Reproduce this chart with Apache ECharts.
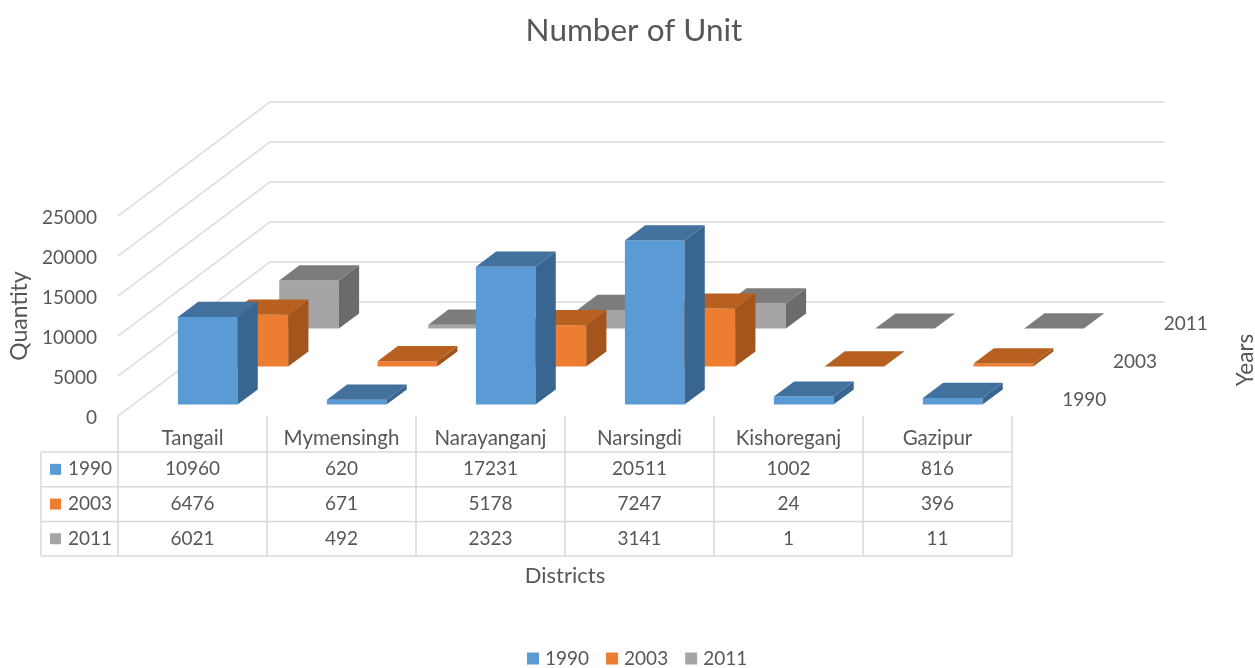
<!DOCTYPE html>
<html>
<head>
<meta charset="utf-8">
<style>
  html, body { margin: 0; padding: 0; background: #fff; }
  #chart { width: 1255px; height: 668px; }
</style>
<script src="https://cdn.jsdelivr.net/npm/echarts@6/dist/echarts.min.js"></script>
</head>
<body>
<div id="chart"></div>
<script>
const districts = ["Tangail", "Mymensingh", "Narayanganj", "Narsingdi", "Kishoreganj", "Gazipur"];
const years = ["1990", "2003", "2011"];
const values1990 = [10960, 620, 17231, 20511, 1002, 816];
const values2003 = [6476, 671, 5178, 7247, 24, 396];
const values2011 = [6021, 492, 2323, 3141, 1, 11];
const yTicks = [0, 5000, 10000, 15000, 20000, 25000];

const rows = [values1990, values2003, values2011];

// colours per year: front, top, side
const frontColors = ["#5b9bd5", "#ed7d31", "#a5a5a5"];
const topColors = ["#41719c", "#b8601f", "#7c7c7c"];
const sideColors = ["#386690", "#a4551c", "#6b6b6b"];

const textColor = "#575757";
const lineColor = "#d9d9d9";
const font = "Lato";

// floor depth in pixels, the 3d look is only a shear of the grid
const depthX = 152;
const depthY = 114;
const barShare = 0.4;

// table rows under the plot
const tableTop = 452;
const tableRowH = 34.7;
const tableLeft = 41;

function shear(pt, d) {
  return [pt[0] + d * depthX, pt[1] - d * depthY];
}

function renderBar(rowIndex, params, api) {
  const cat = api.value(0);
  const val = api.value(1);
  const base = api.coord([cat, 0]);
  const top = api.coord([cat, val]);
  const w = api.size([1, 0])[0] * barShare;
  const d0 = (rowIndex + 0.3) / 3;
  const d1 = (rowIndex + 0.7) / 3;
  const fl = shear([base[0] - w / 2, top[1]], d0);
  const fr = shear([base[0] + w / 2, top[1]], d0);
  const bl = shear([base[0] - w / 2, top[1]], d1);
  const br = shear([base[0] + w / 2, top[1]], d1);
  const fb = shear([base[0] + w / 2, base[1]], d0);
  const bb = shear([base[0] + w / 2, base[1]], d1);
  const fbl = shear([base[0] - w / 2, base[1]], d0);
  return {
    type: "group",
    children: [
      { type: "polygon", shape: { points: [fl, fr, fb, fbl] }, style: { fill: frontColors[rowIndex] } },
      { type: "polygon", shape: { points: [fr, br, bb, fb] }, style: { fill: sideColors[rowIndex] } },
      { type: "polygon", shape: { points: [fl, bl, br, fr] }, style: { fill: topColors[rowIndex] } },
    ],
  };
}

function renderGrid(params, api) {
  const pt = api.coord([0, api.value(0)]);
  const band = api.size([1, 0])[0];
  const left = [pt[0] - band / 2, pt[1]];
  const corner = shear(left, 1);
  const right = [corner[0] + band * districts.length, corner[1]];
  return {
    type: "polyline",
    shape: { points: [left, corner, right] },
    style: { fill: null, stroke: lineColor, lineWidth: 1.5 },
  };
}

function renderDepthLabel(params, api) {
  const r = params.dataIndex;
  const band = api.size([1, 0])[0];
  const pt = api.coord([districts.length - 1, 0]);
  const d = (r + 0.5) / 3;
  const p = shear([pt[0] + band / 2, pt[1]], d);
  return {
    type: "text",
    x: p[0] + 47,
    y: p[1] + 2.5,
    style: {
      text: years[r],
      fill: textColor,
      font: `19px ${font}`,
      align: "center",
      verticalAlign: "middle",
    },
  };
}

function renderTable(params, api) {
  const r = params.dataIndex;
  const band = api.size([1, 0])[0];
  const children = [];
  const y = tableTop + r * tableRowH;
  const first = api.coord([0, 0])[0] - band / 2;
  const last = first + band * districts.length;
  const line = (x1, y1, x2, y2) => ({
    type: "line",
    shape: { x1, y1, x2, y2 },
    style: { stroke: lineColor, lineWidth: 1.5 },
  });
  children.push(line(tableLeft, y, last, y));
  children.push(line(tableLeft, y, tableLeft, y + tableRowH));
  for (let i = 0; i <= districts.length; i++) {
    const x = first + band * i;
    children.push(line(x, r === 0 ? api.coord([0, 0])[1] : y, x, y + tableRowH));
  }
  if (r === rows.length - 1) {
    children.push(line(tableLeft, y + tableRowH, last, y + tableRowH));
  }
  children.push({
    type: "rect",
    shape: { x: tableLeft + 9, y: y + tableRowH / 2 - 5.5, width: 11, height: 11 },
    style: { fill: frontColors[r] },
  });
  children.push({
    type: "text",
    x: tableLeft + 27,
    y: y + tableRowH / 2,
    style: { text: years[r], fill: textColor, font: `19px ${font}`, verticalAlign: "middle" },
  });
  rows[r].forEach((v, i) => {
    children.push({
      type: "text",
      x: api.coord([i, 0])[0],
      y: y + tableRowH / 2,
      style: { text: String(v), fill: textColor, font: `19px ${font}`, align: "center", verticalAlign: "middle" },
    });
  });
  return { type: "group", children };
}

const chart = echarts.init(document.getElementById("chart"), null, { renderer: "canvas" });

const series = [
  {
    name: "grid",
    type: "custom",
    z: 1,
    silent: true,
    data: yTicks.map((v) => [v]),
    encode: { y: 0 },
    renderItem: renderGrid,
  },
  {
    name: "table",
    type: "custom",
    z: 1,
    silent: true,
    data: years.map((y, i) => [i]),
    renderItem: renderTable,
  },
  {
    name: "depth",
    type: "custom",
    z: 1,
    silent: true,
    data: years.map((y, i) => [i]),
    renderItem: renderDepthLabel,
  },
];

// back row first so the front row paints over it
years.forEach((year, r) => {
  series.push({
    name: year,
    type: "custom",
    z: 5 - r + 2,
    itemStyle: { color: frontColors[r] },
    data: rows[r].map((v, i) => [i, v]),
    encode: { x: 0, y: 1 },
    renderItem: (params, api) => renderBar(r, params, api),
  });
});

chart.setOption({
  animation: false,
  backgroundColor: "#fff",
  title: {
    text: "Number of Unit",
    left: 629,
    top: 10,
    textAlign: "center",
    textStyle: { color: textColor, fontFamily: font, fontSize: 31.5, fontWeight: "normal" },
  },
  legend: {
    data: years,
    left: 527,
    top: 649,
    padding: 0,
    itemWidth: 12,
    itemHeight: 12,
    itemGap: 17,
    icon: "rect",
    textStyle: { color: textColor, fontFamily: font, fontSize: 19, padding: [0, 0, 0, 1] },
  },
  grid: { left: 118, top: 216, width: 894, height: 200, outerBoundsMode: "none" },
  xAxis: {
    type: "category",
    data: districts,
    name: "Districts",
    nameLocation: "middle",
    nameGap: 149,
    nameTextStyle: { color: textColor, fontFamily: font, fontSize: 22 },
    axisLine: { show: false },
    axisTick: { show: false },
    axisLabel: { color: textColor, fontFamily: font, fontSize: 20.5, margin: 12, interval: 0 },
    splitLine: { show: false },
  },
  yAxis: {
    type: "value",
    min: 0,
    max: 25000,
    interval: 5000,
    name: "Quantity",
    nameLocation: "middle",
    nameGap: 86,
    nameTextStyle: { color: textColor, fontFamily: font, fontSize: 23 },
    axisLine: { show: false },
    axisTick: { show: false },
    axisLabel: {
      color: textColor,
      fontFamily: font,
      fontSize: 19,
      margin: 21,
      verticalAlign: "top",
      lineHeight: 4,
      formatter: (v) => String(v),
    },
    splitLine: { show: false },
  },
  graphic: [
    {
      type: "text",
      x: 1246,
      y: 360,
      rotation: Math.PI / 2,
      style: { text: "Years", fill: textColor, font: `22.5px ${font}`, align: "center", verticalAlign: "middle" },
    },
  ],
  series,
});
</script>
</body>
</html>
